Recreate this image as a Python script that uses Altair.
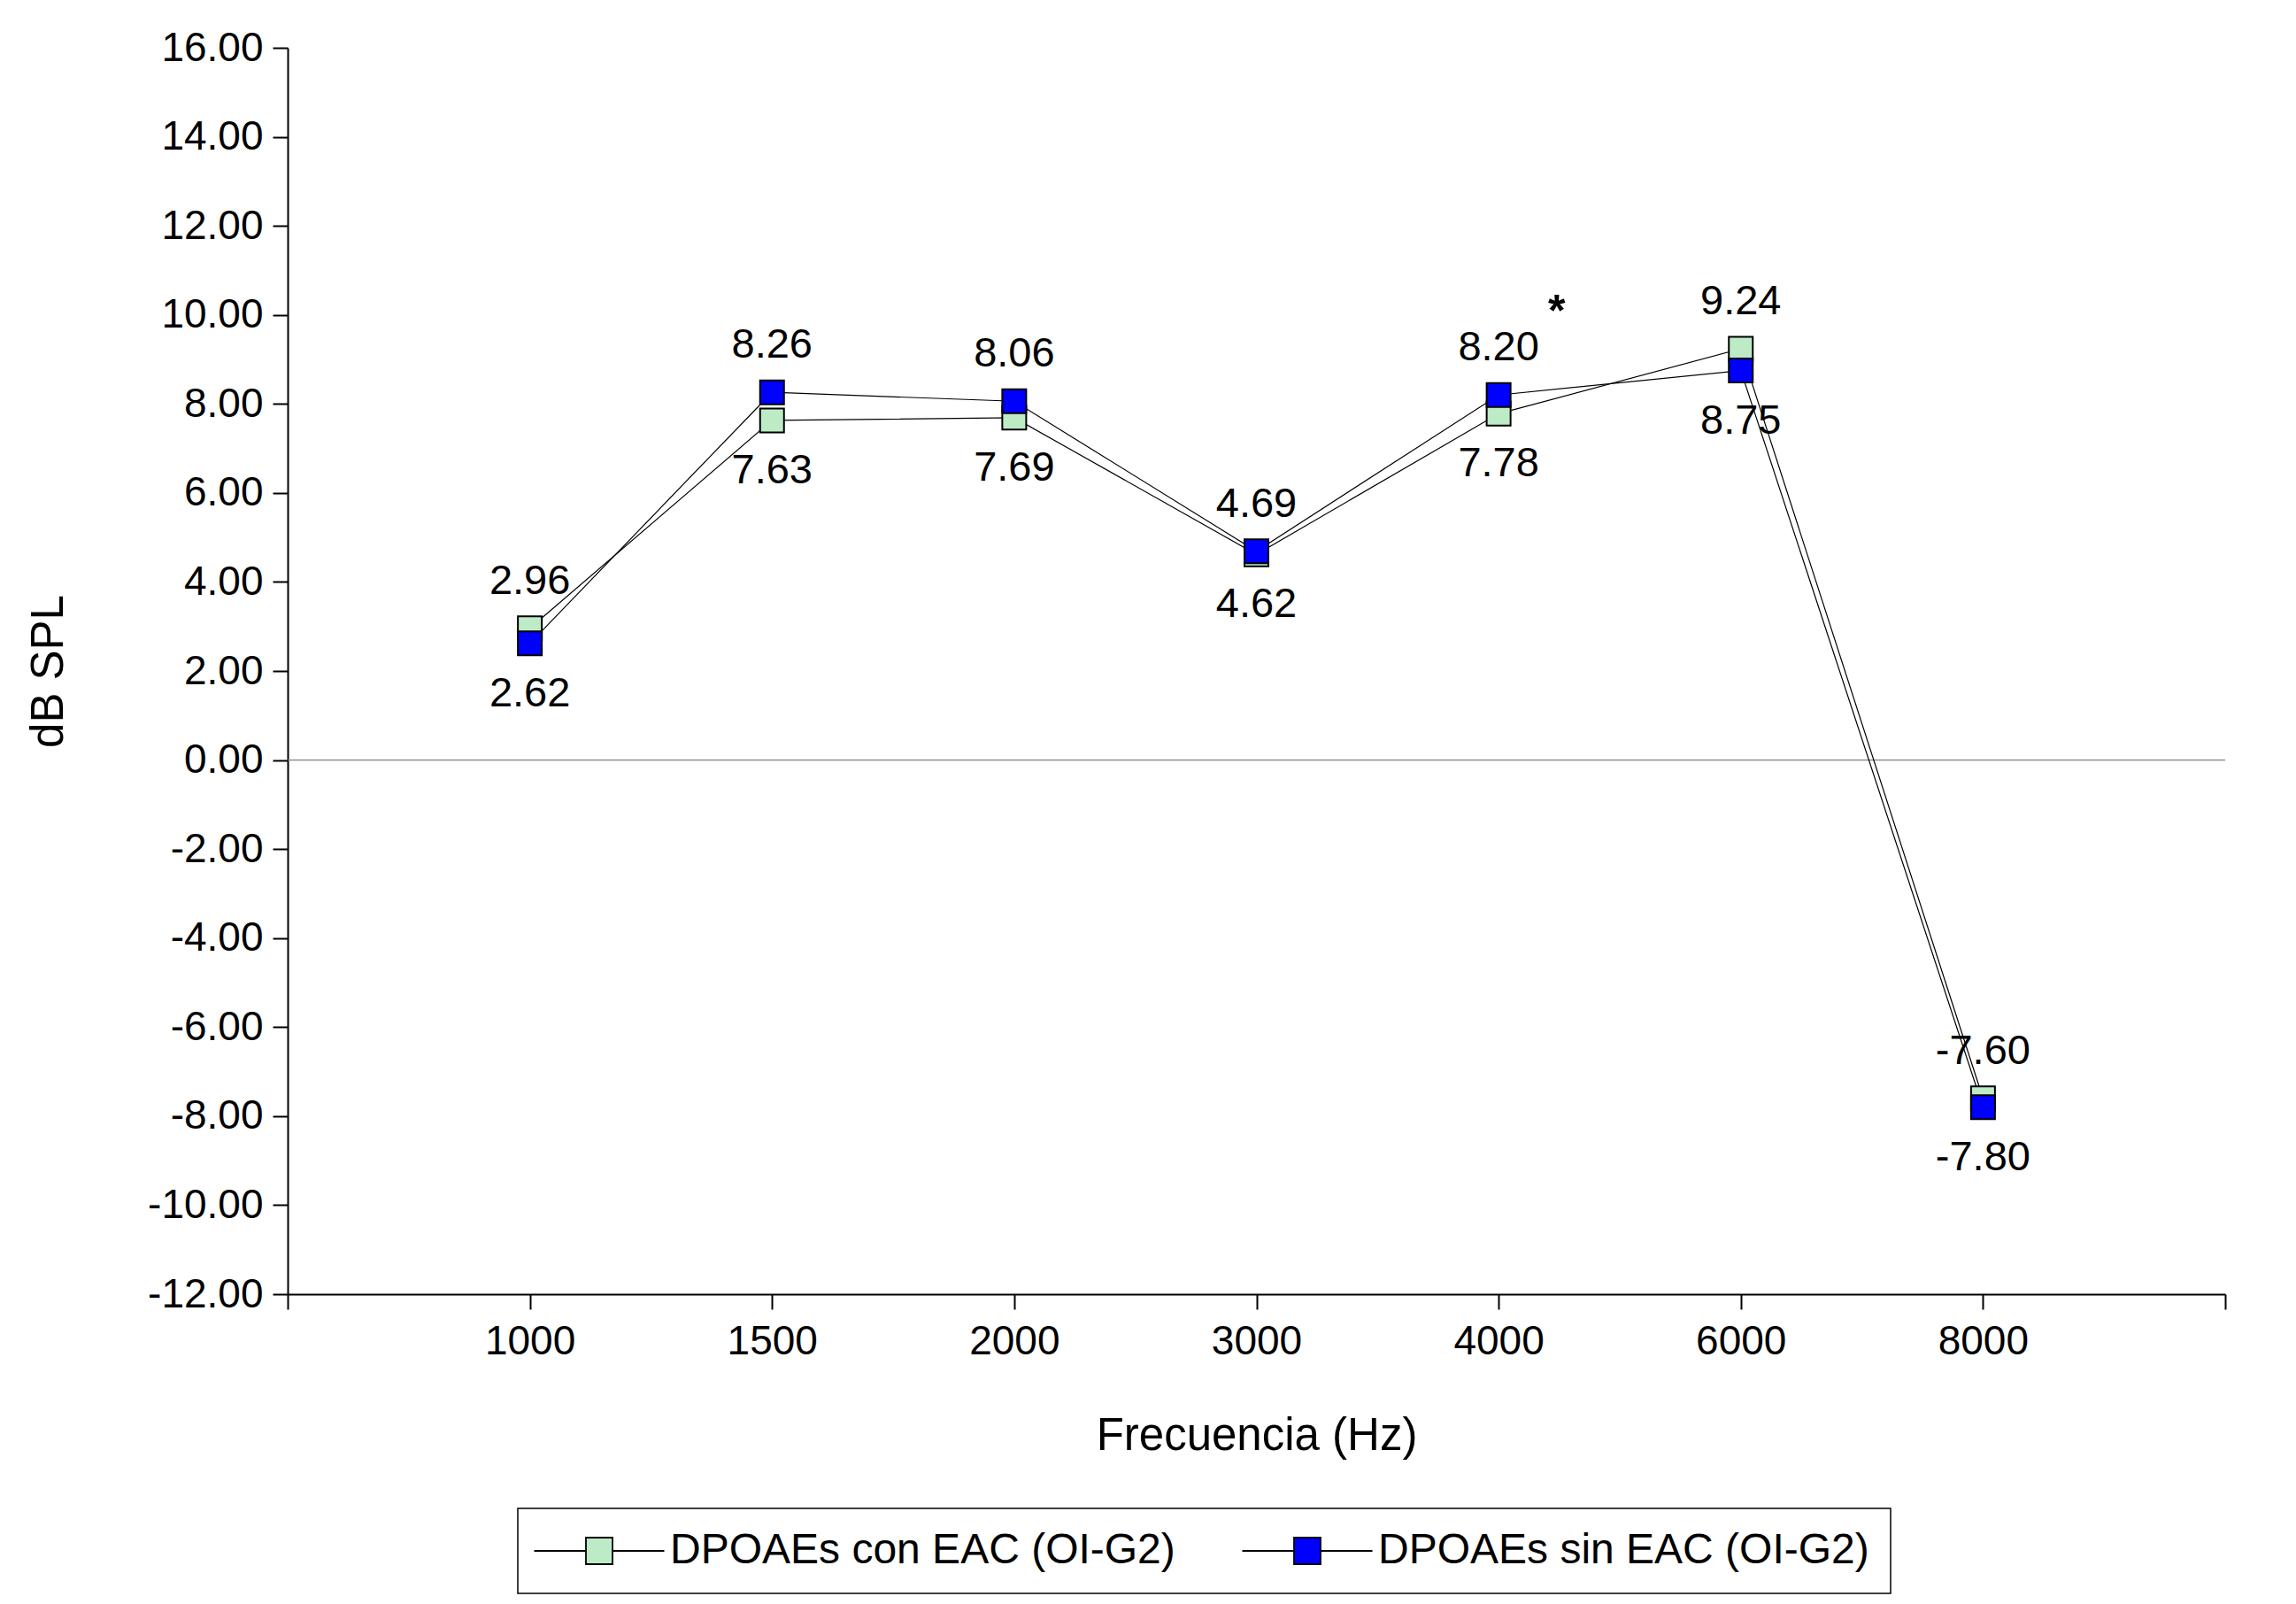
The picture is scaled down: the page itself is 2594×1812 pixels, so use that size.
import altair as alt
import pandas as pd

# ---------------- data ----------------
freq_labels = ["1000", "1500", "2000", "3000", "4000", "6000", "8000"]
con_eac = [2.96, 7.63, 7.69, 4.62, 7.78, 9.24, -7.60]   # DPOAEs con EAC (OI-G2)
sin_eac = [2.62, 8.26, 8.06, 4.69, 8.20, 8.75, -7.80]   # DPOAEs sin EAC (OI-G2)
series_names = ["DPOAEs con EAC (OI-G2)", "DPOAEs sin EAC (OI-G2)"]
series_colors = ["#BDEBC6", "#0000FF"]
y_ticks = list(range(-12, 18, 2))
star_pos = [5.24]     # between 4000 and 6000 (category index scale)
star_val = [10.05]
star_text = ["*"]

FONT = "Liberation Sans"

rows = []
for i, lab in enumerate(freq_labels):
    a, b = con_eac[i], sin_eac[i]
    for name, v, other in ((series_names[0], a, b), (series_names[1], b, a)):
        rows.append({
            "pos": i + 1,
            "freq": lab,
            "value": v,
            "series": name,
            "label": f"{v:.2f}",
            "place": "above" if v >= other else "below",
        })
df = pd.DataFrame(rows)
df_star = pd.DataFrame({"pos": star_pos, "value": star_val, "t": star_text})
df_zero = pd.DataFrame({"value": [0]})

label_expr_x = "[''," + ",".join(f"'{l}'" for l in freq_labels) + ",''][datum.value]"

x_enc = alt.X(
    "pos:Q",
    scale=alt.Scale(domain=[0, len(freq_labels) + 1], nice=False, zero=False),
    axis=alt.Axis(
        values=list(range(len(freq_labels) + 2)),
        labelExpr=label_expr_x,
        title="Frecuencia (Hz)",
        grid=False,
        labelPadding=14,
        titleX=1094.5,
        titleY=175,
        titleAlign="center",
        titleBaseline="alphabetic",
    ),
)
y_enc = alt.Y(
    "value:Q",
    scale=alt.Scale(domain=[-12, 16], nice=False, zero=False),
    axis=alt.Axis(
        values=y_ticks,
        labelExpr="replace(format(datum.value, '.2f'), '\u2212', '-')",
        title="dB SPL",
        grid=False,
        labelPadding=11,
        titleAngle=270,
        titleX=-270,
        titleY=704,
        titleAlign="center",
        titleBaseline="middle",
    ),
)

zero = alt.Chart(df_zero).mark_rule(color="#808080", strokeWidth=1.2).encode(
    y=alt.Y("value:Q", scale=alt.Scale(domain=[-12, 16], nice=False, zero=False))
)

lines = alt.Chart(df).mark_line(color="black", strokeWidth=1.2).encode(
    x=x_enc, y=y_enc, detail="series:N"
)

legend_path = "M-4.9,0H-1M1,0H4.9M-1,-1H1V1H-1Z"

points = alt.Chart(df).mark_point(
    shape="square", filled=True, size=729, stroke="black", strokeWidth=2, opacity=1
).encode(
    x=x_enc,
    y=y_enc,
    fill=alt.Fill(
        "series:N",
        scale=alt.Scale(domain=series_names, range=series_colors),
        legend=alt.Legend(
            orient="none",
            legendX=260,
            legendY=1650,
            direction="horizontal",
            columns=2,
            title=None,
            strokeColor="black",
            padding=24,
            symbolType=legend_path,
            symbolSize=900,
            symbolStrokeColor="black",
            symbolStrokeWidth=1.8,
            symbolOffset=44,
            labelOffset=56,
            labelLimit=3000,
            labelFont=FONT,
            labelFontSize=48,
            labelColor="black",
            columnPadding=71,
        ),
    ),
)

text_above = alt.Chart(df).transform_filter("datum.place == 'above'").mark_text(
    dy=-53, font=FONT, fontSize=47, color="black", baseline="middle"
).encode(x=x_enc, y=y_enc, text="label:N")

text_below = alt.Chart(df).transform_filter("datum.place == 'below'").mark_text(
    dy=57, font=FONT, fontSize=47, color="black", baseline="middle"
).encode(x=x_enc, y=y_enc, text="label:N")

star = alt.Chart(df_star).mark_text(
    font=FONT, fontSize=50, fontWeight="bold", color="black", baseline="middle"
).encode(x=x_enc, y=y_enc, text="t:N")

chart = (
    alt.layer(zero, lines, points, text_above, text_below, star)
    .properties(
        width=2189,
        height=1408,
        autosize=alt.AutoSizeParams(type="none"),
        padding={"left": 317, "top": 46, "right": 72, "bottom": 342},
    )
    .configure(font=FONT)
    .configure_view(stroke=None)
    .configure_axis(
        domainColor="black",
        domainWidth=2,
        tickColor="black",
        tickWidth=2,
        tickSize=17,
        labelFont=FONT,
        labelFontSize=46,
        labelColor="black",
        titleFont=FONT,
        titleFontSize=51,
        titleFontWeight="normal",
        titleColor="black",
    )
    .configure_legend(strokeWidth=1.5, cornerRadius=0)
)

chart.save("out.html", embed_options={"renderer": "svg", "actions": False})
